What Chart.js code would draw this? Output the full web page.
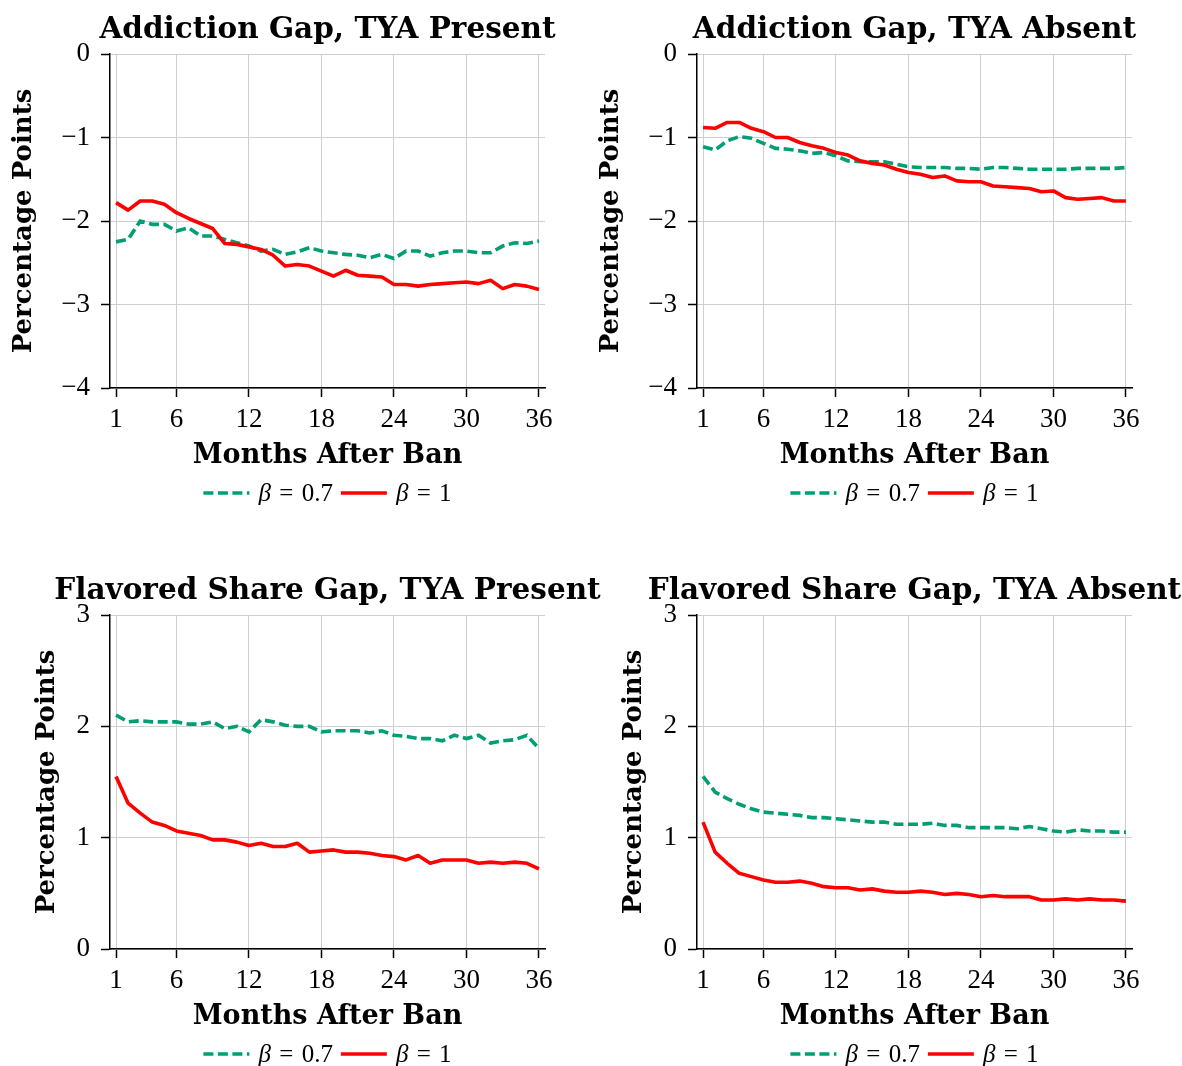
<!DOCTYPE html>
<html>
<head>
<meta charset="utf-8">
<script src="https://cdn.jsdelivr.net/npm/chart.js@4.4.1/dist/chart.umd.min.js"></script>
<style>
  body { margin: 0; background: #fff; width: 1182px; height: 1066px; overflow: hidden; position: relative; }
  canvas { position: absolute; }
</style>
</head>
<body>
<canvas id="c2" width="595" height="505" style="left:587px;top:0"></canvas>
<canvas id="c4" width="595" height="505" style="left:587px;top:561px"></canvas>
<canvas id="c1" width="620" height="505" style="left:0;top:0"></canvas>
<canvas id="c3" width="620" height="505" style="left:0;top:561px"></canvas>
<script>
const months = [1, 2, 3, 4, 5, 6, 7, 8, 9, 10, 11, 12, 13, 14, 15, 16, 17, 18,
    19, 20, 21, 22, 23, 24, 25, 26, 27, 28, 29, 30, 31, 32, 33, 34, 35, 36]
const xTicks = [1, 6, 12, 18, 24, 30, 36]

// addiction gap, TYA present
const addPresentB07 = [-2.25, -2.22, -2.00, -2.04, -2.04, -2.12, -2.08, -2.18, -2.18, -2.22, -2.26, -2.30,
    -2.36, -2.34, -2.40, -2.37, -2.32, -2.36, -2.38, -2.40, -2.41, -2.44, -2.40, -2.45,
    -2.36, -2.36, -2.42, -2.38, -2.36, -2.36, -2.38, -2.38, -2.30, -2.26, -2.27, -2.24]
const addPresentB1 = [-1.78, -1.87, -1.76, -1.76, -1.80, -1.90, -1.97, -2.03, -2.09, -2.27, -2.28, -2.31,
    -2.34, -2.41, -2.54, -2.52, -2.54, -2.60, -2.66, -2.59, -2.65, -2.66, -2.67, -2.76,
    -2.76, -2.78, -2.76, -2.75, -2.74, -2.73, -2.75, -2.71, -2.81, -2.76, -2.78, -2.82]

// addiction gap, TYA absent
const addAbsentB07 = [-1.11, -1.15, -1.04, -0.99, -1.01, -1.07, -1.13, -1.14, -1.16, -1.19, -1.18, -1.22,
    -1.28, -1.29, -1.29, -1.29, -1.32, -1.35, -1.36, -1.36, -1.36, -1.37, -1.37, -1.38,
    -1.36, -1.36, -1.37, -1.38, -1.38, -1.38, -1.38, -1.37, -1.37, -1.37, -1.37, -1.36]
const addAbsentB1 = [-0.88, -0.89, -0.82, -0.82, -0.89, -0.93, -1.00, -1.00, -1.06, -1.10, -1.13, -1.18,
    -1.21, -1.28, -1.31, -1.33, -1.38, -1.42, -1.44, -1.48, -1.46, -1.52, -1.53, -1.53,
    -1.58, -1.59, -1.60, -1.61, -1.65, -1.64, -1.72, -1.74, -1.73, -1.72, -1.76, -1.76]

// flavored share gap, TYA present
const flavPresentB07 = [2.10, 2.04, 2.05, 2.04, 2.04, 2.04, 2.02, 2.02, 2.04, 1.98, 2.00, 1.95,
    2.06, 2.04, 2.01, 2.00, 2.00, 1.95, 1.96, 1.96, 1.96, 1.94, 1.96, 1.92,
    1.91, 1.89, 1.89, 1.87, 1.92, 1.89, 1.92, 1.85, 1.87, 1.88, 1.92, 1.80]
const flavPresentB1 = [1.55, 1.31, 1.22, 1.14, 1.11, 1.06, 1.04, 1.02, 0.98, 0.98, 0.96, 0.93,
    0.95, 0.92, 0.92, 0.95, 0.87, 0.88, 0.89, 0.87, 0.87, 0.86, 0.84, 0.83,
    0.80, 0.84, 0.77, 0.80, 0.80, 0.80, 0.77, 0.78, 0.77, 0.78, 0.77, 0.72]

// flavored share gap, TYA absent
const flavAbsentB07 = [1.55, 1.41, 1.35, 1.30, 1.26, 1.23, 1.22, 1.21, 1.20, 1.18, 1.18, 1.17,
    1.16, 1.15, 1.14, 1.14, 1.12, 1.12, 1.12, 1.13, 1.11, 1.11, 1.09, 1.09,
    1.09, 1.09, 1.08, 1.10, 1.08, 1.06, 1.05, 1.07, 1.06, 1.06, 1.05, 1.05]
const flavAbsentB1 = [1.14, 0.87, 0.77, 0.68, 0.65, 0.62, 0.60, 0.60, 0.61, 0.59, 0.56, 0.55,
    0.55, 0.53, 0.54, 0.52, 0.51, 0.51, 0.52, 0.51, 0.49, 0.50, 0.49, 0.47,
    0.48, 0.47, 0.47, 0.47, 0.44, 0.44, 0.45, 0.44, 0.45, 0.44, 0.44, 0.43]

const seriesSymbol = 'β'
const seriesRest = ['\u2004=\u20040.7', '\u2004=\u20041']
const GREEN = '#009E73'
const RED = '#FF0000'
const FONT = '"Liberation Serif", "Times New Roman", serif'
const BOLD_FONT = '"DejaVu Serif", serif'

// title above the plot area and legend below it, both centred on the chart area
const panelDecor = {
    id: 'panelDecor',
    afterDraw(chart, args, opts) {
        const { ctx, chartArea } = chart
        const cx = (chartArea.left + chartArea.right) / 2
        ctx.save()
        ctx.fillStyle = '#000'
        ctx.font = 'bold 29.5px ' + BOLD_FONT
        ctx.textAlign = 'center'
        ctx.textBaseline = 'alphabetic'
        ctx.fillText(opts.title, cx, chartArea.top - 16)

        // legend
        const sampleW = 46
        const italic = 'italic 25px ' + FONT
        const normal = '25px ' + FONT
        const items = chart.data.datasets.map((ds, i) => {
            ctx.font = italic
            const w1 = ctx.measureText(seriesSymbol).width
            ctx.font = normal
            const w2 = ctx.measureText(seriesRest[i]).width
            return { ds, w1, w2, rest: seriesRest[i] }
        })
        let total = 0
        items.forEach((it, i) => { total += sampleW + 9 + it.w1 + it.w2 + (i ? 0 : 8) })
        let x = cx - total / 2
        const ly = chartArea.bottom + 105
        ctx.textAlign = 'left'
        items.forEach((it, i) => {
            ctx.beginPath()
            ctx.strokeStyle = it.ds.borderColor
            ctx.lineWidth = it.ds.borderWidth
            ctx.setLineDash(it.ds.borderDash || [])
            ctx.moveTo(x, ly)
            ctx.lineTo(x + sampleW, ly)
            ctx.stroke()
            ctx.setLineDash([])
            x += sampleW + 9
            ctx.font = italic
            ctx.fillText(seriesSymbol, x, ly + 8)
            x += it.w1
            ctx.font = normal
            ctx.fillText(it.rest, x, ly + 8)
            x += it.w2 + 8
        })
        ctx.restore()
    }
}

function makePanel(id, title, lowBeta, highBeta, yMin, yMax, padLeft) {
    const canvas = document.getElementById(id)
    const gridColor = '#cfcfcf'
    new Chart(canvas.getContext('2d'), {
        type: 'line',
        data: {
            datasets: [{
                label: 'beta 0.7',
                data: months.map((m, i) => ({ x: m, y: lowBeta[i] })),
                borderColor: GREEN,
                borderWidth: 3.6,
                borderDash: [10, 4.5],
                pointRadius: 0,
                order: 1
            }, {
                label: 'beta 1',
                data: months.map((m, i) => ({ x: m, y: highBeta[i] })),
                borderColor: RED,
                borderWidth: 3.6,
                borderJoinStyle: 'round',
                pointRadius: 0,
                order: 0
            }]
        },
        options: {
            responsive: false,
            animation: false,
            devicePixelRatio: 1,
            layout: {
                padding: { top: 54, left: padLeft, right: canvas.width - 545, bottom: 27 }
            },
            plugins: {
                legend: { display: false },
                tooltip: { enabled: false },
                panelDecor: { title: title }
            },
            scales: {
                x: {
                    type: 'linear',
                    min: 0.5,
                    max: 36.5,
                    afterBuildTicks: scale => { scale.ticks = xTicks.map(v => ({ value: v })) },
                    afterFit: scale => { scale.height = 90 },
                    ticks: { autoSkip: false, maxRotation: 0, padding: 7, color: '#000', font: { family: FONT, size: 27 } },
                    grid: { color: gridColor, lineWidth: 1, tickColor: '#000', tickLength: 9, tickWidth: 1.5 },
                    border: { color: '#000', width: 1.5 },
                    title: { display: true, text: 'Months After Ban', color: '#000', padding: { top: 0, bottom: 6 },
                        font: { family: BOLD_FONT, size: 27, weight: 'bold' } }
                },
                y: {
                    min: yMin,
                    max: yMax,
                    afterFit: scale => { scale.width = 110 - padLeft },
                    ticks: { stepSize: 1, padding: 11, color: '#000', font: { family: FONT, size: 27 },
                        callback: v => String(v).replace('-', '\u2212') },
                    grid: { color: gridColor, lineWidth: 1, tickColor: '#000', tickLength: 9, tickWidth: 1.5 },
                    border: { color: '#000', width: 1.5 },
                    title: { display: true, text: 'Percentage Points', color: '#000', padding: 0,
                        font: { family: BOLD_FONT, size: 26, weight: 'bold' } }
                }
            }
        },
        plugins: [panelDecor]
    })
}

makePanel('c1', 'Addiction Gap, TYA Present', addPresentB07, addPresentB1, -4, 0, 9)
makePanel('c2', 'Addiction Gap, TYA Absent', addAbsentB07, addAbsentB1, -4, 0, 9)
makePanel('c3', 'Flavored Share Gap, TYA Present', flavPresentB07, flavPresentB1, 0, 3, 32)
makePanel('c4', 'Flavored Share Gap, TYA Absent', flavAbsentB07, flavAbsentB1, 0, 3, 32)
</script>
</body>
</html>
